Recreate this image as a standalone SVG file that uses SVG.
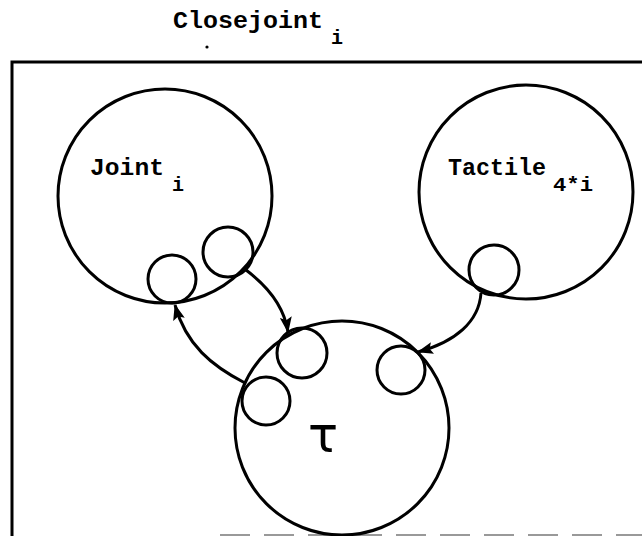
<svg xmlns="http://www.w3.org/2000/svg" width="642" height="536" viewBox="0 0 642 536">
  <style>
    .node { fill: none; stroke: #000; stroke-width: 3; }
    .port { fill: none; stroke: #000; stroke-width: 3; }
    .lbl { font-family: "Liberation Mono", "DejaVu Sans Mono", monospace; font-weight: bold; font-size: 23px; fill: #000; }
    .sub { font-family: "Liberation Mono", "DejaVu Sans Mono", monospace; font-weight: bold; font-size: 20px; fill: #000; }
    .edge { fill: none; stroke: #000; stroke-width: 3; }
  </style>
  <defs>
    <marker id="head" viewBox="0 0 16 12" refX="15" refY="6" markerWidth="16" markerHeight="12" markerUnits="userSpaceOnUse" orient="auto">
      <path d="M0,0 L16,6 L0,12 L3,6 Z" fill="#000"/>
    </marker>
  </defs>
  <rect width="642" height="536" fill="#fff"/>

  <!-- enclosing frame: Closejoint_i -->
  <g id="closejoint">
    <text class="lbl" x="173" y="28" textLength="150" lengthAdjust="spacingAndGlyphs">Closejoint</text>
    <text class="sub" x="331" y="44">i</text>
    <circle cx="207" cy="47" r="1.6" fill="#000"/>
    <path d="M12,536 L12,62 L642,62" fill="none" stroke="#000" stroke-width="3"/>
    <line x1="220" y1="535" x2="642" y2="535" stroke="#999" stroke-width="2" stroke-dasharray="30 14"/>
  </g>

  <!-- Joint_i -->
  <g id="joint">
    <circle class="node" cx="165" cy="196" r="107"/>
    <text class="lbl" x="90" y="175" textLength="74" lengthAdjust="spacingAndGlyphs">Joint</text>
    <text class="sub" x="172" y="191">i</text>
    <circle class="port" cx="172" cy="279" r="24"/>
    <circle class="port" cx="228" cy="252" r="25"/>
  </g>

  <!-- Tactile_4*i -->
  <g id="tactile">
    <circle class="node" cx="526" cy="192" r="107"/>
    <text class="lbl" x="448" y="175" textLength="98" lengthAdjust="spacingAndGlyphs">Tactile</text>
    <text class="sub" x="553" y="191" textLength="40" lengthAdjust="spacingAndGlyphs">4*i</text>
    <circle class="port" cx="494" cy="270" r="25"/>
  </g>

  <!-- tau -->
  <g id="tau">
    <circle class="node" cx="342" cy="428" r="107"/>
    <text x="323" y="452" text-anchor="middle" font-family="DejaVu Sans, sans-serif" font-size="50" fill="#000">τ</text>
    <circle class="port" cx="302" cy="353" r="25"/>
    <circle class="port" cx="401" cy="370" r="24"/>
    <circle class="port" cx="266" cy="401" r="24"/>
  </g>

  <!-- connectors -->
  <g id="connectors">
    <path class="edge" d="M246,270 C266,285 284,305 288,332" marker-end="url(#head)"/>
    <path class="edge" d="M245,383 C212,366 186,345 175,305" marker-end="url(#head)"/>
    <path class="edge" d="M481,293 C479,322 455,342 418,352" marker-end="url(#head)"/>
  </g>
</svg>
